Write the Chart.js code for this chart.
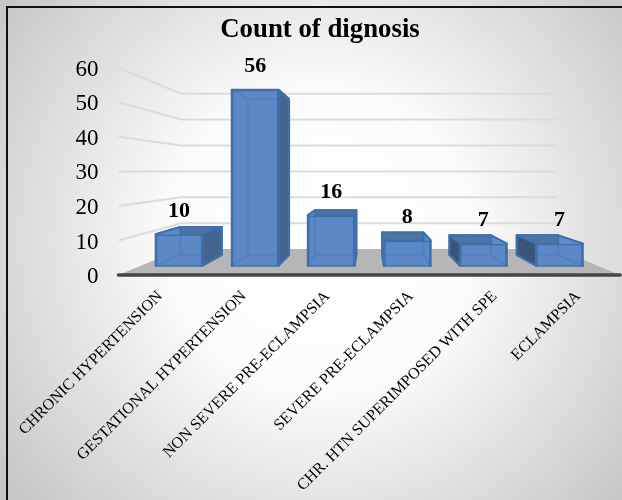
<!DOCTYPE html>
<html>
<head>
<meta charset="utf-8">
<style>
  html, body { margin: 0; padding: 0; background: #fff; }
  #wrap { width: 622px; height: 500px; }
</style>
<script src="https://cdn.jsdelivr.net/npm/chart.js@4"></script>
</head>
<body>
<div id="wrap"><canvas id="chart" width="622" height="500"></canvas></div>
<script>
const categories = [
  'CHRONIC HYPERTENSION',
  'GESTATIONAL HYPERTENSION',
  'NON SEVERE PRE-ECLAMPSIA',
  'SEVERE PRE-ECLAMPSIA',
  'CHR. HTN SUPERIMPOSED WITH SPE',
  'ECLAMPSIA'
];
const counts = [10, 56, 16, 8, 7, 7];
const chartTitle = 'Count of dignosis';

const SERIF = '"Liberation Serif", "Times New Roman", serif';

// Perspective depths, as a scale factor toward the vanishing point.
const BAR_FRONT = 0.91;
const BAR_BACK = 0.805;
const WALL = 0.75;

function vanishing(chart) {
  const a = chart.chartArea;
  return { x: (a.left + a.right) / 2, y: chart.scales.y.getPixelForValue(30) };
}
function project(v, x, y, s) {
  return [v.x + (x - v.x) * s, v.y + (y - v.y) * s];
}
function poly(ctx, pts, fill, stroke, lw) {
  ctx.beginPath();
  pts.forEach((p, i) => i ? ctx.lineTo(p[0], p[1]) : ctx.moveTo(p[0], p[1]));
  ctx.closePath();
  if (fill) { ctx.fillStyle = fill; ctx.fill(); }
  if (stroke) { ctx.strokeStyle = stroke; ctx.lineWidth = lw; ctx.lineJoin = 'round'; ctx.stroke(); }
}

// Sheet background, floor, and the side and back walls' grid lines.
const stagePlugin = {
  id: 'stage',
  beforeDraw(chart) {
    const { ctx, width, height, chartArea: a, scales: { y } } = chart;
    const v = vanishing(chart);
    ctx.save();
    const g = ctx.createRadialGradient(320, 240, 20, 320, 240, 400);
    g.addColorStop(0, '#ffffff');
    g.addColorStop(0.35, '#fbfbfb');
    g.addColorStop(1, '#c6c6c6');
    ctx.fillStyle = g;
    ctx.fillRect(0, 0, width, height);
    ctx.strokeStyle = '#111111';
    ctx.lineWidth = 2;
    ctx.beginPath();
    ctx.moveTo(7, height);
    ctx.lineTo(7, 7);
    ctx.lineTo(width, 7);
    ctx.stroke();

    const base = y.getPixelForValue(0);
    ctx.strokeStyle = '#dcdcdc';
    ctx.lineWidth = 2;
    y.ticks.forEach(t => {
      if (t.value === 0) return;
      const py = y.getPixelForValue(t.value);
      const b1 = project(v, a.left, py, WALL);
      const b2 = project(v, a.right, py, WALL);
      ctx.beginPath();
      ctx.moveTo(a.left, py);
      ctx.lineTo(b1[0], b1[1]);
      ctx.lineTo(b2[0], b2[1]);
      ctx.stroke();
    });
    poly(ctx, [
      [a.left, base],
      project(v, a.left, base, WALL),
      project(v, a.right, base, WALL),
      [a.right, base]
    ], '#b6b6b6');
    ctx.lineCap = 'round';
    ctx.strokeStyle = '#454545';
    ctx.lineWidth = 3.5;
    ctx.beginPath();
    ctx.moveTo(a.left, base);
    ctx.lineTo(a.right, base);
    ctx.stroke();
    ctx.restore();
  }
};

// Gives each library-laid-out bar depth: rear faces first, then the
// front face is drawn by the bar element under a perspective transform.
const depthPlugin = {
  id: 'depth',
  beforeDatasetDraw(chart, args) {
    const { ctx } = chart;
    const v = vanishing(chart);
    const edge = '#3f70ae';
    const inner = '#5f8cc8';
    const outer = '#42648f';
    ctx.save();
    args.meta.data.forEach(bar => {
      const l = bar.x - bar.width / 2, r = bar.x + bar.width / 2;
      const t = bar.y, b = bar.base;
      const f = (x, y) => project(v, x, y, BAR_FRONT);
      const k = (x, y) => project(v, x, y, BAR_BACK);
      const fTL = f(l, t), fTR = f(r, t), fBL = f(l, b), fBR = f(r, b);
      const kTL = k(l, t), kTR = k(r, t), kBL = k(l, b), kBR = k(r, b);
      poly(ctx, [kTL, kTR, kBR, kBL], inner, edge, 2);
      poly(ctx, [fBL, fBR, kBR, kBL], inner, edge, 2);
      poly(ctx, [fTL, fTR, kTR, kTL], kTL[1] < fTL[1] ? '#4f73a3' : inner, edge, 2);
      poly(ctx, [fTR, kTR, kBR, fBR], kTR[0] > fTR[0] ? outer : inner, edge, 2);
      poly(ctx, [fTL, kTL, kBL, fBL], kTL[0] < fTL[0] ? '#3b5579' : inner, edge, 2);
    });
    ctx.translate(v.x, v.y);
    ctx.scale(BAR_FRONT, BAR_FRONT);
    ctx.translate(-v.x, -v.y);
  },
  afterDatasetDraw(chart) {
    chart.ctx.restore();
  },
  afterDatasetsDraw(chart) {
    const { ctx } = chart;
    const v = vanishing(chart);
    const meta = chart.getDatasetMeta(0);
    ctx.save();
    ctx.font = 'bold 22px ' + SERIF;
    ctx.fillStyle = '#000';
    ctx.textAlign = 'center';
    ctx.textBaseline = 'middle';
    meta.data.forEach((bar, i) => {
      const p = project(v, bar.x, bar.y, BAR_FRONT);
      ctx.fillText(String(counts[i]), p[0], p[1] - 23);
    });
    ctx.restore();
  }
};

new Chart(document.getElementById('chart'), {
  type: 'bar',
  data: {
    labels: categories,
    datasets: [{
      data: counts,
      backgroundColor: 'rgba(92,136,196,0.72)',
      borderColor: '#3f70ae',
      borderWidth: 2,
      categoryPercentage: 1,
      barPercentage: 0.616
    }]
  },
  plugins: [stagePlugin, depthPlugin],
  options: {
    responsive: false,
    animation: false,
    layout: { padding: { left: 20, right: 2, top: 8, bottom: 0 } },
    plugins: {
      legend: { display: false },
      tooltip: { enabled: false },
      title: {
        display: true,
        text: chartTitle,
        color: '#000',
        font: { family: SERIF, size: 26.8, weight: 'bold' },
        padding: { top: 6, bottom: 21.6 }
      }
    },
    scales: {
      x: {
        grid: { display: false, drawTicks: false },
        border: { display: false },
        afterFit(scale) { scale.height = 225; },
        ticks: {
          color: '#000',
          font: { family: SERIF, size: 16 },
          autoSkip: false,
          minRotation: 45,
          maxRotation: 45,
          padding: 12
        }
      },
      y: {
        min: 0,
        max: 60,
        grid: { display: false, drawTicks: false },
        border: { display: false },
        afterFit(scale) { scale.width = 97; },
        ticks: {
          stepSize: 10,
          color: '#000',
          font: { family: SERIF, size: 23 },
          padding: 20,
          labelOffset: 2
        }
      }
    }
  }
});
</script>
</body>
</html>
